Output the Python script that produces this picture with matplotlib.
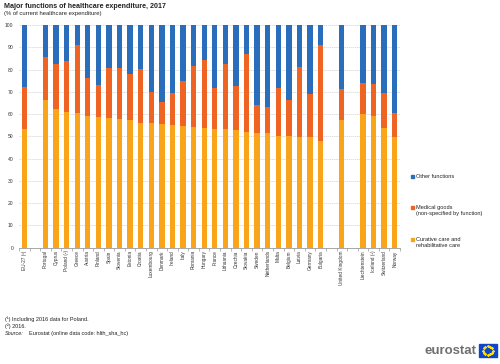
import matplotlib.pyplot as plt
import numpy as np
from matplotlib.patches import Rectangle

plt.rcParams["font.family"] = ["Liberation Sans", "DejaVu Sans"]

countries = ["EU-27 (¹)", "Portugal", "Cyprus", "Poland (²)", "Greece", "Austria",
             "Finland", "Spain", "Slovenia", "Estonia", "Croatia", "Luxembourg",
             "Denmark", "Ireland", "Italy", "Romania", "Hungary", "France",
             "Lithuania", "Czechia", "Slovakia", "Sweden", "Netherlands", "Malta",
             "Belgium", "Latvia", "Germany", "Bulgaria", "United Kingdom",
             "Liechtenstein", "Iceland (²)", "Switzerland", "Norway"]
groups = ["eu"] + ["ms"] * 27 + ["uk"] + ["efta"] * 4

curative = [53.3, 66.4, 62.2, 60.9, 60.3, 59.0, 58.6, 58.2, 57.9, 57.2, 56.0, 56.0,
            55.5, 55.2, 54.8, 54.3, 53.7, 53.3, 53.1, 52.7, 51.9, 51.5, 51.5, 50.1,
            50.1, 49.7, 49.5, 47.7, 57.2, 60.0, 59.1, 53.6, 49.7]
medical = [18.8, 19.2, 20.3, 23.1, 30.9, 17.2, 14.4, 22.5, 22.8, 20.8, 24.4, 13.9,
           9.8, 14.2, 20.2, 27.2, 30.7, 18.5, 29.4, 20.0, 35.1, 12.5, 11.8, 21.6,
           16.3, 31.4, 19.5, 43.5, 14.3, 13.8, 14.2, 15.8, 10.7]
other = [27.9, 14.4, 17.5, 16.0, 8.8, 23.8, 27.0, 19.3, 19.3, 22.0, 19.6, 30.1,
         34.7, 30.6, 25.0, 18.5, 15.6, 28.2, 17.5, 27.3, 13.0, 36.0, 36.7, 28.3,
         33.6, 18.9, 31.0, 8.8, 28.5, 26.2, 26.7, 30.6, 39.6]

series = ["Curative care and\nrehabilitative care",
          "Medical goods\n(non-specified by function)",
          "Other functions"]
colors = ["#FAA519", "#F06423", "#2A6EBB"]

# slot positions, one empty slot between groups
pos = []
p = 0
for i, g in enumerate(groups):
    if i > 0 and g != groups[i - 1]:
        p += 1
    pos.append(p)
    p += 1
n_slots = p
pos = np.array(pos)

fig = plt.figure(figsize=(5, 3.64), dpi=100)
ax = fig.add_axes([0.038, 0.32, 0.762, 0.611])

bottom = np.zeros(len(countries))
for vals, c in zip([curative, medical, other], colors):
    ax.bar(pos, vals, width=0.5, bottom=bottom, color=c, zorder=3)
    bottom += np.array(vals)

ax.set_xlim(-0.5, n_slots - 0.5)
ax.set_ylim(0, 100)
ax.set_yticks(np.arange(0, 101, 10))
ax.yaxis.grid(True, color="#d0d0d0", linestyle=(0, (2, 1)), linewidth=0.5, zorder=0)
ax.tick_params(axis="y", length=0, labelsize=3.6, pad=4, labelcolor="#333333")

ax.set_xticks(pos)
ax.set_xticklabels(countries, rotation=90, fontsize=3.4, color="#333333")
ax.set_xticks(np.arange(-0.5, n_slots, 1), minor=True)
ax.tick_params(axis="x", which="major", length=0, pad=2)
ax.tick_params(axis="x", which="minor", length=2.5, width=0.5, color="#999999")

for s in ["left", "right", "top"]:
    ax.spines[s].set_visible(False)
ax.spines["bottom"].set_color("#999999")
ax.spines["bottom"].set_linewidth(0.6)

fig.text(0.008, 0.983, "Major functions of healthcare expenditure, 2017",
         fontsize=5.1, fontweight="bold", va="center", color="#222222")
fig.text(0.008, 0.962, "(% of current healthcare expenditure)",
         fontsize=4.2, va="center", color="#222222")

# legend, top entry first
leg_y = [0.516, 0.431, 0.343]
for name, c, y in zip(series[::-1], colors[::-1], leg_y):
    fig.patches.append(Rectangle((0.822, y - 0.005), 0.006, 0.009,
                                 transform=fig.transFigure, color=c))
    fig.text(0.832, y + 0.006, name, fontsize=4.1, va="top",
             linespacing=1.3, color="#222222")

notes = ["(¹) Including 2016 data for Poland.", "(²) 2016."]
fig.text(0.01, 0.124, notes[0], fontsize=4, va="center", color="#222222")
fig.text(0.01, 0.104, notes[1], fontsize=4, va="center", color="#222222")
fig.text(0.01, 0.083, "Source:", fontsize=4, va="center", style="italic",
         color="#222222")
fig.text(0.058, 0.083, "Eurostat (online data code: hlth_sha_hc)", fontsize=4,
         va="center", color="#222222")

# eurostat logo
fig.text(0.849, 0.036, "eurostat", fontsize=9.5, fontweight="bold",
         color="#707070", va="center")
fig.patches.append(Rectangle((0.958, 0.020), 0.035, 0.034,
                             transform=fig.transFigure, color="#0E47CB"))
ang = np.linspace(0, 2 * np.pi, 12, endpoint=False)
fig.lines.append(plt.Line2D(0.9755 + 0.0095 * np.cos(ang),
                            0.037 + 0.012 * np.sin(ang),
                            transform=fig.transFigure, linestyle="none",
                            marker="*", markersize=1.3, color="#FFDD00"))

fig.savefig("out.png", dpi=100)
